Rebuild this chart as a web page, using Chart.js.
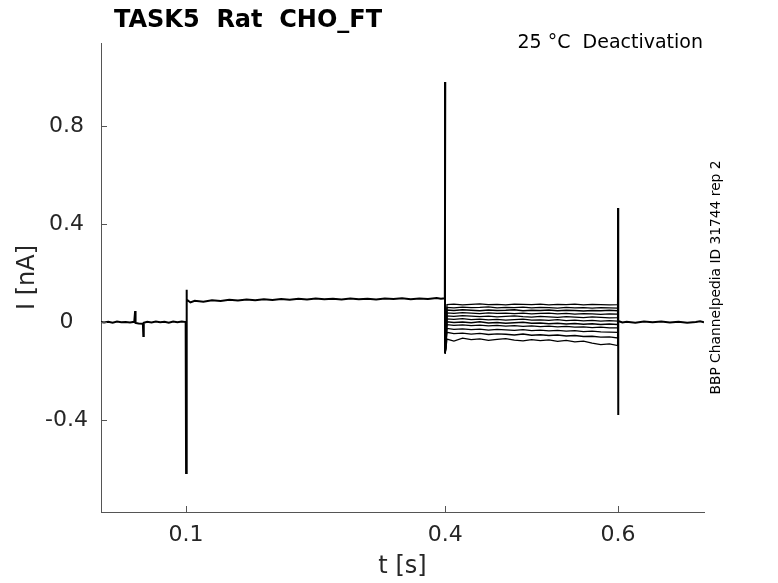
<!DOCTYPE html>
<html>
<head>
<meta charset="utf-8">
<script src="https://cdn.jsdelivr.net/npm/chart.js@4.4.1/dist/chart.umd.min.js"></script>
<style>
  html, body { margin: 0; padding: 0; background: #fff; }
  #wrap { width: 778px; height: 583px; }
</style>
</head>
<body>
<div id="wrap"><canvas id="chart" width="778" height="583"></canvas></div>
<script>
// holding / pre-pulse part, shared by every sweep (t in s, I in nA)
const tPre = [0.0015,0.005,0.010,0.015,0.020,0.025,0.030,0.035,0.040,0.0410,0.0415,0.045,0.050,0.0505,0.0510,
  0.055,0.060,0.065,0.070,0.075,0.080,0.085,0.090,0.095,0.0995,0.1000,0.1004,0.1010,0.105,0.110,
  0.120,0.130,0.140,0.150,0.160,0.170,0.180,0.190,0.200,0.210,0.220,0.230,0.240,0.250,0.260,
  0.270,0.280,0.290,0.300,0.310,0.320,0.330,0.340,0.350,0.360,0.370,0.380,0.390,0.395,0.3995,0.4000];
const iPre = [0.000,-0.002,0.001,-0.003,0.002,-0.001,0.000,-0.002,0.001,0.045,-0.004,-0.006,-0.007,-0.057,-0.003,
  0.001,-0.002,0.002,-0.001,0.001,-0.003,0.002,-0.001,0.002,0.000,-0.616,0.132,0.092,0.080,0.087,
  0.083,0.089,0.086,0.091,0.088,0.092,0.089,0.093,0.090,0.094,0.091,0.095,0.092,0.096,0.093,
  0.095,0.092,0.096,0.093,0.095,0.092,0.096,0.094,0.097,0.093,0.096,0.094,0.098,0.095,0.097,0.980];

// deactivation steps
const tStepIn = [0.4000];
const iStepIn = [-0.127];
const tStep = [0.402,0.41,0.42,0.43,0.44,0.45,0.46,0.47,0.48,0.49,0.50,0.51,0.52,0.53,0.54,0.55,0.56,0.57,0.58,0.59,0.5995];
const sweeps = [
  [0.071,0.073,0.070,0.072,0.074,0.071,0.072,0.070,0.073,0.072,0.071,0.073,0.070,0.072,0.071,0.073,0.070,0.072,0.071,0.070,0.071],
  [0.060,0.058,0.061,0.059,0.060,0.062,0.058,0.060,0.059,0.061,0.058,0.060,0.059,0.057,0.060,0.058,0.059,0.057,0.059,0.058,0.057],
  [0.049,0.047,0.050,0.048,0.046,0.049,0.047,0.048,0.050,0.046,0.048,0.047,0.049,0.046,0.048,0.047,0.045,0.047,0.046,0.048,0.046],
  [0.037,0.035,0.038,0.036,0.034,0.037,0.035,0.036,0.034,0.036,0.033,0.035,0.036,0.033,0.035,0.032,0.034,0.033,0.031,0.033,0.032],
  [0.025,0.023,0.026,0.024,0.022,0.024,0.021,0.023,0.025,0.022,0.020,0.023,0.021,0.019,0.022,0.020,0.018,0.021,0.019,0.017,0.018],
  [0.013,0.011,0.014,0.010,0.012,0.009,0.011,0.008,0.010,0.012,0.008,0.009,0.007,0.010,0.006,0.008,0.005,0.007,0.004,0.006,0.004],
  [0.001,-0.002,0.000,-0.003,0.001,-0.004,-0.002,-0.005,-0.003,-0.001,-0.005,-0.004,-0.007,-0.005,-0.008,-0.006,-0.009,-0.007,-0.010,-0.008,-0.010],
  [-0.011,-0.014,-0.012,-0.015,-0.013,-0.016,-0.014,-0.017,-0.015,-0.018,-0.016,-0.019,-0.017,-0.020,-0.018,-0.021,-0.020,-0.023,-0.021,-0.024,-0.024],
  [-0.026,-0.030,-0.028,-0.031,-0.029,-0.033,-0.030,-0.032,-0.034,-0.031,-0.035,-0.033,-0.036,-0.034,-0.037,-0.035,-0.039,-0.037,-0.040,-0.041,-0.042],
  [-0.042,-0.047,-0.045,-0.049,-0.046,-0.051,-0.048,-0.050,-0.053,-0.049,-0.054,-0.052,-0.055,-0.053,-0.057,-0.055,-0.059,-0.058,-0.062,-0.061,-0.065],
  [-0.070,-0.078,-0.066,-0.072,-0.069,-0.075,-0.071,-0.068,-0.074,-0.077,-0.072,-0.076,-0.073,-0.079,-0.075,-0.081,-0.078,-0.086,-0.092,-0.089,-0.096]
];

// tail after the step, shared again
const tPost = [0.6,0.6,0.6005,0.605,0.61,0.62,0.63,0.64,0.65,0.66,0.67,0.68,0.69,0.695,0.6995];
const iPost = [0.465,-0.380,0.004,-0.002,0.001,-0.003,0.002,-0.001,0.002,-0.002,0.001,-0.003,0.000,0.003,-0.001];

const xTicks = [0.1, 0.4, 0.6];
const xTickLabels = ['0.1', '0.4', '0.6'];
const yTicks = [-0.4, 0, 0.4, 0.8];
const yTickLabels = ['-0.4', '0', '0.4', '0.8'];

const titleText = 'TASK5  Rat  CHO_FT';
const condText = '25 °C  Deactivation';
const sideText = 'BBP Channelpedia ID 31744 rep 2';

const FONT = 'DejaVu Sans';
const axisColor = '#555555';
const textColor = '#262626';

function pts(ts, vs) {
  return ts.map((t, k) => ({ x: t, y: vs[k] }));
}

const lastPre = { x: tPre[tPre.length - 1], y: iPre[iPre.length - 1] };
const firstPost = { x: tPost[0], y: iPost[0] };

const datasets = [];
datasets.push({ data: pts(tPre, iPre), borderWidth: 2 });
sweeps.forEach(sw => {
  datasets.push({ data: [lastPre, ...pts(tStepIn, iStepIn), ...pts(tStep, sw), firstPost], borderWidth: 1.3 });
});
datasets.push({ data: pts(tPost, iPost), borderWidth: 2 });
datasets.forEach(d => {
  d.borderColor = '#000';
  d.pointRadius = 0;
  d.tension = 0;
  d.fill = false;
});

// inward tick marks + the free text around the axes
const decor = {
  id: 'decor',
  afterDraw(chart) {
    const { ctx, chartArea: a, scales: { x, y } } = chart;
    ctx.save();
    ctx.strokeStyle = axisColor;
    ctx.lineWidth = 1;
    ctx.beginPath();
    xTicks.forEach(v => {
      const px = Math.round(x.getPixelForValue(v)) + 0.5;
      ctx.moveTo(px, a.bottom);
      ctx.lineTo(px, a.bottom - 6);
    });
    yTicks.forEach(v => {
      const py = Math.round(y.getPixelForValue(v)) + 0.5;
      ctx.moveTo(a.left, py);
      ctx.lineTo(a.left + 6, py);
    });
    ctx.stroke();

    ctx.fillStyle = '#000';
    ctx.textBaseline = 'alphabetic';
    ctx.font = 'bold 24px "' + FONT + '"';
    ctx.textAlign = 'left';
    ctx.fillText(titleText, 114, 27);

    ctx.font = '19px "' + FONT + '"';
    ctx.textAlign = 'right';
    ctx.fillText(condText, 703, 48);

    ctx.fillStyle = textColor;
    ctx.font = '24px "' + FONT + '"';
    ctx.textAlign = 'center';
    ctx.textBaseline = 'middle';
    ctx.fillText('t [s]', (a.left + a.right) / 2, 567);
    ctx.save();
    ctx.translate(28, (a.top + a.bottom) / 2);
    ctx.rotate(-Math.PI / 2);
    ctx.fillText('I [nA]', 0, 0);
    ctx.restore();

    ctx.fillStyle = '#000';
    ctx.font = '13.8px "' + FONT + '"';
    ctx.save();
    ctx.translate(716, (a.top + a.bottom) / 2);
    ctx.rotate(-Math.PI / 2);
    ctx.fillText(sideText, 0, 0);
    ctx.restore();
    ctx.restore();
  }
};

new Chart(document.getElementById('chart'), {
  type: 'line',
  data: { datasets: datasets },
  options: {
    responsive: false,
    animation: false,
    layout: { padding: { top: 43, right: 74, bottom: 0, left: 0 } },
    plugins: {
      legend: { display: false },
      tooltip: { enabled: false },
      title: { display: false }
    },
    scales: {
      x: {
        type: 'linear',
        min: 0.0015,
        max: 0.6995,
        afterFit(s) { s.height = 71; },
        afterBuildTicks(s) { s.ticks = xTicks.map(v => ({ value: v })); },
        grid: { display: false, drawTicks: false },
        border: { display: true, color: axisColor, width: 1 },
        ticks: {
          autoSkip: false,
          maxRotation: 0,
          padding: 10,
          color: textColor,
          font: { family: FONT, size: 22 },
          callback: (v, k) => xTickLabels[k]
        }
      },
      y: {
        type: 'linear',
        min: -0.7755,
        max: 1.139,
        afterFit(s) { s.width = 101; },
        afterBuildTicks(s) { s.ticks = yTicks.map(v => ({ value: v })); },
        grid: { display: false, drawTicks: false },
        border: { display: true, color: axisColor, width: 1 },
        ticks: {
          autoSkip: false,
          padding: 13,
          crossAlign: 'center',
          color: textColor,
          font: { family: FONT, size: 22 },
          callback: (v, k) => yTickLabels[k]
        }
      }
    }
  },
  plugins: [decor]
});
</script>
</body>
</html>
